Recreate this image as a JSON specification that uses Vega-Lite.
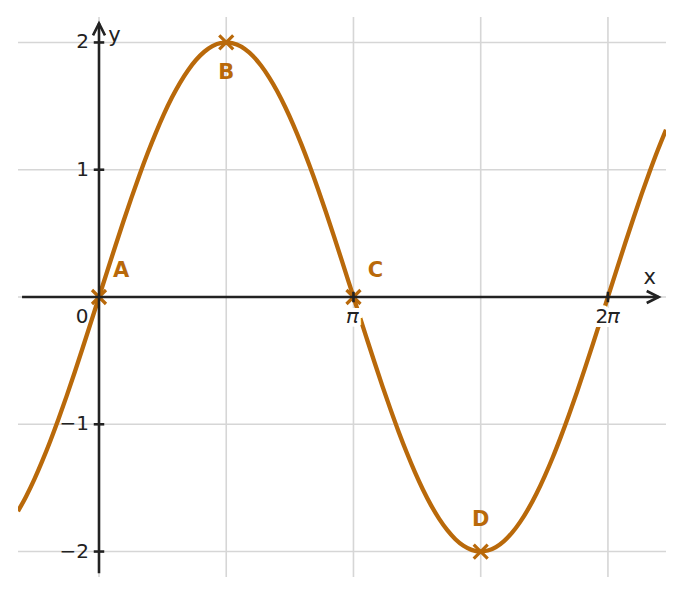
{
  "$schema": "https://vega.github.io/schema/vega-lite/v6.json",
  "width": 648,
  "height": 560,
  "autosize": {"type": "none"},
  "padding": {"left": 18, "top": 17, "right": 18, "bottom": 18},
  "background": "white",
  "config": {"view": {"stroke": null}, "text": {"font": "DejaVu Sans"}},
  "datasets": {
    "curve": [
      {"x": -1.0, "y": -1.683}, {"x": -0.9, "y": -1.567}, {"x": -0.8, "y": -1.435}, {"x": -0.7, "y": -1.288},
      {"x": -0.6, "y": -1.129}, {"x": -0.5, "y": -0.959}, {"x": -0.4, "y": -0.779}, {"x": -0.3, "y": -0.591},
      {"x": -0.2, "y": -0.397}, {"x": -0.1, "y": -0.2}, {"x": 0.0, "y": 0.0}, {"x": 0.1, "y": 0.2},
      {"x": 0.2, "y": 0.397}, {"x": 0.3, "y": 0.591}, {"x": 0.4, "y": 0.779}, {"x": 0.5, "y": 0.959},
      {"x": 0.6, "y": 1.129}, {"x": 0.7, "y": 1.288}, {"x": 0.8, "y": 1.435}, {"x": 0.9, "y": 1.567},
      {"x": 1.0, "y": 1.683}, {"x": 1.1, "y": 1.782}, {"x": 1.2, "y": 1.864}, {"x": 1.3, "y": 1.927},
      {"x": 1.4, "y": 1.971}, {"x": 1.5, "y": 1.995}, {"x": 1.6, "y": 1.999}, {"x": 1.7, "y": 1.983},
      {"x": 1.8, "y": 1.948}, {"x": 1.9, "y": 1.893}, {"x": 2.0, "y": 1.819}, {"x": 2.1, "y": 1.726},
      {"x": 2.2, "y": 1.617}, {"x": 2.3, "y": 1.491}, {"x": 2.4, "y": 1.351}, {"x": 2.5, "y": 1.197},
      {"x": 2.6, "y": 1.031}, {"x": 2.7, "y": 0.855}, {"x": 2.8, "y": 0.67}, {"x": 2.9, "y": 0.478},
      {"x": 3.0, "y": 0.282}, {"x": 3.1, "y": 0.083}, {"x": 3.2, "y": -0.117}, {"x": 3.3, "y": -0.315},
      {"x": 3.4, "y": -0.511}, {"x": 3.5, "y": -0.702}, {"x": 3.6, "y": -0.885}, {"x": 3.7, "y": -1.06},
      {"x": 3.8, "y": -1.224}, {"x": 3.9, "y": -1.376}, {"x": 4.0, "y": -1.514}, {"x": 4.1, "y": -1.637},
      {"x": 4.2, "y": -1.743}, {"x": 4.3, "y": -1.832}, {"x": 4.4, "y": -1.903}, {"x": 4.5, "y": -1.955},
      {"x": 4.6, "y": -1.987}, {"x": 4.7, "y": -2.0}, {"x": 4.8, "y": -1.992}, {"x": 4.9, "y": -1.965},
      {"x": 5.0, "y": -1.918}, {"x": 5.1, "y": -1.852}, {"x": 5.2, "y": -1.767}, {"x": 5.3, "y": -1.665},
      {"x": 5.4, "y": -1.546}, {"x": 5.5, "y": -1.411}, {"x": 5.6, "y": -1.263}, {"x": 5.7, "y": -1.101},
      {"x": 5.8, "y": -0.929}, {"x": 5.9, "y": -0.748}, {"x": 6.0, "y": -0.559}, {"x": 6.1, "y": -0.364},
      {"x": 6.2, "y": -0.166}, {"x": 6.3, "y": 0.034}, {"x": 6.4, "y": 0.233}, {"x": 6.5, "y": 0.43},
      {"x": 6.6, "y": 0.623}, {"x": 6.7, "y": 0.81}, {"x": 6.8, "y": 0.988}, {"x": 6.9, "y": 1.157},
      {"x": 7.0, "y": 1.314}
    ],
    "gridx": [{"x": 0}, {"x": 1.5708}, {"x": 3.1416}, {"x": 4.7124}, {"x": 6.2832}],
    "gridy": [{"y": -2}, {"y": -1}, {"y": 0}, {"y": 1}, {"y": 2}],
    "pts": [
      {"name": "A", "x": 0, "y": 0},
      {"name": "B", "x": 1.5708, "y": 2},
      {"name": "C", "x": 3.1416, "y": 0},
      {"name": "D", "x": 4.7124, "y": -2}
    ],
    "xaxis": [{"x": -0.95, "x2": 6.91, "y": 0}],
    "yaxis": [{"x": 0, "y": -2.17, "y2": 2.15}],
    "xarrow": [{"x": 6.91, "y": 0}],
    "yarrow": [{"x": 0, "y": 2.15}],
    "yticks": [{"x": 0, "y": 2, "label": "2"}, {"x": 0, "y": 1, "label": "1"}, {"x": 0, "y": -1, "label": "−1"}, {"x": 0, "y": -2, "label": "−2"}],
    "xticks": [{"x": 3.1416, "y": 0, "label": "𝜋"}, {"x": 6.2832, "y": 0, "label": "2𝜋"}],
    "origin": [{"x": 0, "y": 0, "label": "0"}],
    "names": [{"x": 6.8, "y": 0.15, "label": "x"}, {"x": 0.19, "y": 2.05, "label": "y"}]
  },
  "layer": [
    {
      "data": {"name": "gridx"},
      "mark": {"type": "rule", "color": "#d6d6d6", "strokeWidth": 1.6},
      "encoding": {"x": {"field": "x", "type": "quantitative", "scale": {"domain": [-1, 7], "nice": false, "zero": false}, "axis": null}}
    },
    {
      "data": {"name": "gridy"},
      "mark": {"type": "rule", "color": "#d6d6d6", "strokeWidth": 1.6},
      "encoding": {"y": {"field": "y", "type": "quantitative", "scale": {"domain": [-2.2, 2.2], "nice": false, "zero": false}, "axis": null}}
    },
    {
      "data": {"name": "curve"},
      "mark": {"type": "line", "color": "#b9690a", "strokeWidth": 4.3, "interpolate": "monotone", "clip": true},
      "encoding": {
        "x": {"field": "x", "type": "quantitative", "scale": {"domain": [-1, 7], "nice": false, "zero": false}, "axis": null},
        "y": {"field": "y", "type": "quantitative", "scale": {"domain": [-2.2, 2.2], "nice": false, "zero": false}, "axis": null}
      }
    },
    {
      "data": {"name": "pts"},
      "mark": {"type": "point", "shape": "M-1,-1L1,1M-1,1L1,-1", "size": 196, "filled": false, "stroke": "#b9690a", "strokeWidth": 3.2, "opacity": 1},
      "encoding": {
        "x": {"field": "x", "type": "quantitative", "scale": {"domain": [-1, 7], "nice": false, "zero": false}, "axis": null},
        "y": {"field": "y", "type": "quantitative", "scale": {"domain": [-2.2, 2.2], "nice": false, "zero": false}, "axis": null}
      }
    },
    {
      "data": {"name": "xaxis"},
      "mark": {"type": "rule", "color": "#222222", "strokeWidth": 2.6},
      "encoding": {
        "x": {"field": "x", "type": "quantitative", "scale": {"domain": [-1, 7], "nice": false, "zero": false}, "axis": null},
        "x2": {"field": "x2"},
        "y": {"field": "y", "type": "quantitative", "scale": {"domain": [-2.2, 2.2], "nice": false, "zero": false}, "axis": null}
      }
    },
    {
      "data": {"name": "yaxis"},
      "mark": {"type": "rule", "color": "#222222", "strokeWidth": 2.6},
      "encoding": {
        "x": {"field": "x", "type": "quantitative", "scale": {"domain": [-1, 7], "nice": false, "zero": false}, "axis": null},
        "y": {"field": "y", "type": "quantitative", "scale": {"domain": [-2.2, 2.2], "nice": false, "zero": false}, "axis": null},
        "y2": {"field": "y2"}
      }
    },
    {
      "data": {"name": "xarrow"},
      "mark": {"type": "point", "shape": "M-2,-1L0,0L-2,1", "size": 144, "filled": false, "stroke": "#222222", "strokeWidth": 2.6, "opacity": 1, "strokeJoin": "miter"},
      "encoding": {
        "x": {"field": "x", "type": "quantitative", "scale": {"domain": [-1, 7], "nice": false, "zero": false}, "axis": null},
        "y": {"field": "y", "type": "quantitative", "scale": {"domain": [-2.2, 2.2], "nice": false, "zero": false}, "axis": null}
      }
    },
    {
      "data": {"name": "yarrow"},
      "mark": {"type": "point", "shape": "M-1,2L0,0L1,2", "size": 144, "filled": false, "stroke": "#222222", "strokeWidth": 2.6, "opacity": 1, "strokeJoin": "miter"},
      "encoding": {
        "x": {"field": "x", "type": "quantitative", "scale": {"domain": [-1, 7], "nice": false, "zero": false}, "axis": null},
        "y": {"field": "y", "type": "quantitative", "scale": {"domain": [-2.2, 2.2], "nice": false, "zero": false}, "axis": null}
      }
    },
    {
      "data": {"name": "yticks"},
      "mark": {"type": "point", "shape": "M-1,0L1,0", "size": 110, "filled": false, "stroke": "#222222", "strokeWidth": 2.6, "opacity": 1},
      "encoding": {
        "x": {"field": "x", "type": "quantitative", "scale": {"domain": [-1, 7], "nice": false, "zero": false}, "axis": null},
        "y": {"field": "y", "type": "quantitative", "scale": {"domain": [-2.2, 2.2], "nice": false, "zero": false}, "axis": null}
      }
    },
    {
      "data": {"name": "xticks"},
      "mark": {"type": "point", "shape": "M0,-1L0,1", "size": 110, "filled": false, "stroke": "#222222", "strokeWidth": 2.6, "opacity": 1},
      "encoding": {
        "x": {"field": "x", "type": "quantitative", "scale": {"domain": [-1, 7], "nice": false, "zero": false}, "axis": null},
        "y": {"field": "y", "type": "quantitative", "scale": {"domain": [-2.2, 2.2], "nice": false, "zero": false}, "axis": null}
      }
    },
    {
      "data": {"name": "xticks"},
      "mark": {"type": "text", "fontSize": 20, "dy": 20, "baseline": "middle", "align": "center", "stroke": "white", "strokeWidth": 8, "fill": "white"},
      "encoding": {
        "x": {"field": "x", "type": "quantitative", "scale": {"domain": [-1, 7], "nice": false, "zero": false}, "axis": null},
        "y": {"field": "y", "type": "quantitative", "scale": {"domain": [-2.2, 2.2], "nice": false, "zero": false}, "axis": null},
        "text": {"field": "label"}
      }
    },
    {
      "data": {"name": "xticks"},
      "mark": {"type": "text", "fontSize": 20, "dy": 20, "baseline": "middle", "align": "center", "color": "#222222"},
      "encoding": {
        "x": {"field": "x", "type": "quantitative", "scale": {"domain": [-1, 7], "nice": false, "zero": false}, "axis": null},
        "y": {"field": "y", "type": "quantitative", "scale": {"domain": [-2.2, 2.2], "nice": false, "zero": false}, "axis": null},
        "text": {"field": "label"}
      }
    },
    {
      "data": {"name": "origin"},
      "mark": {"type": "text", "fontSize": 20, "dx": -17, "dy": 20, "baseline": "middle", "align": "center", "color": "#222222"},
      "encoding": {
        "x": {"field": "x", "type": "quantitative", "scale": {"domain": [-1, 7], "nice": false, "zero": false}, "axis": null},
        "y": {"field": "y", "type": "quantitative", "scale": {"domain": [-2.2, 2.2], "nice": false, "zero": false}, "axis": null},
        "text": {"field": "label"}
      }
    },
    {
      "data": {"name": "yticks"},
      "mark": {"type": "text", "fontSize": 20, "dx": -10, "baseline": "middle", "align": "right", "color": "#222222"},
      "encoding": {
        "x": {"field": "x", "type": "quantitative", "scale": {"domain": [-1, 7], "nice": false, "zero": false}, "axis": null},
        "y": {"field": "y", "type": "quantitative", "scale": {"domain": [-2.2, 2.2], "nice": false, "zero": false}, "axis": null},
        "text": {"field": "label"}
      }
    },
    {
      "data": {"name": "names"},
      "mark": {"type": "text", "fontSize": 21, "baseline": "middle", "align": "center", "color": "#222222"},
      "encoding": {
        "x": {"field": "x", "type": "quantitative", "scale": {"domain": [-1, 7], "nice": false, "zero": false}, "axis": null},
        "y": {"field": "y", "type": "quantitative", "scale": {"domain": [-2.2, 2.2], "nice": false, "zero": false}, "axis": null},
        "text": {"field": "label"}
      }
    },
    {
      "data": {"name": "pts"},
      "transform": [{"filter": "datum.name === 'A' || datum.name === 'C'"}],
      "mark": {"type": "text", "fontSize": 21, "fontWeight": "bold", "dx": 22, "dy": -26, "baseline": "middle", "align": "center", "color": "#b9690a"},
      "encoding": {
        "x": {"field": "x", "type": "quantitative", "scale": {"domain": [-1, 7], "nice": false, "zero": false}, "axis": null},
        "y": {"field": "y", "type": "quantitative", "scale": {"domain": [-2.2, 2.2], "nice": false, "zero": false}, "axis": null},
        "text": {"field": "name"}
      }
    },
    {
      "data": {"name": "pts"},
      "transform": [{"filter": "datum.name === 'B'"}],
      "mark": {"type": "text", "fontSize": 21, "fontWeight": "bold", "dy": 31, "baseline": "middle", "align": "center", "color": "#b9690a"},
      "encoding": {
        "x": {"field": "x", "type": "quantitative", "scale": {"domain": [-1, 7], "nice": false, "zero": false}, "axis": null},
        "y": {"field": "y", "type": "quantitative", "scale": {"domain": [-2.2, 2.2], "nice": false, "zero": false}, "axis": null},
        "text": {"field": "name"}
      }
    },
    {
      "data": {"name": "pts"},
      "transform": [{"filter": "datum.name === 'D'"}],
      "mark": {"type": "text", "fontSize": 21, "fontWeight": "bold", "dy": -32, "baseline": "middle", "align": "center", "color": "#b9690a"},
      "encoding": {
        "x": {"field": "x", "type": "quantitative", "scale": {"domain": [-1, 7], "nice": false, "zero": false}, "axis": null},
        "y": {"field": "y", "type": "quantitative", "scale": {"domain": [-2.2, 2.2], "nice": false, "zero": false}, "axis": null},
        "text": {"field": "name"}
      }
    }
  ]
}
